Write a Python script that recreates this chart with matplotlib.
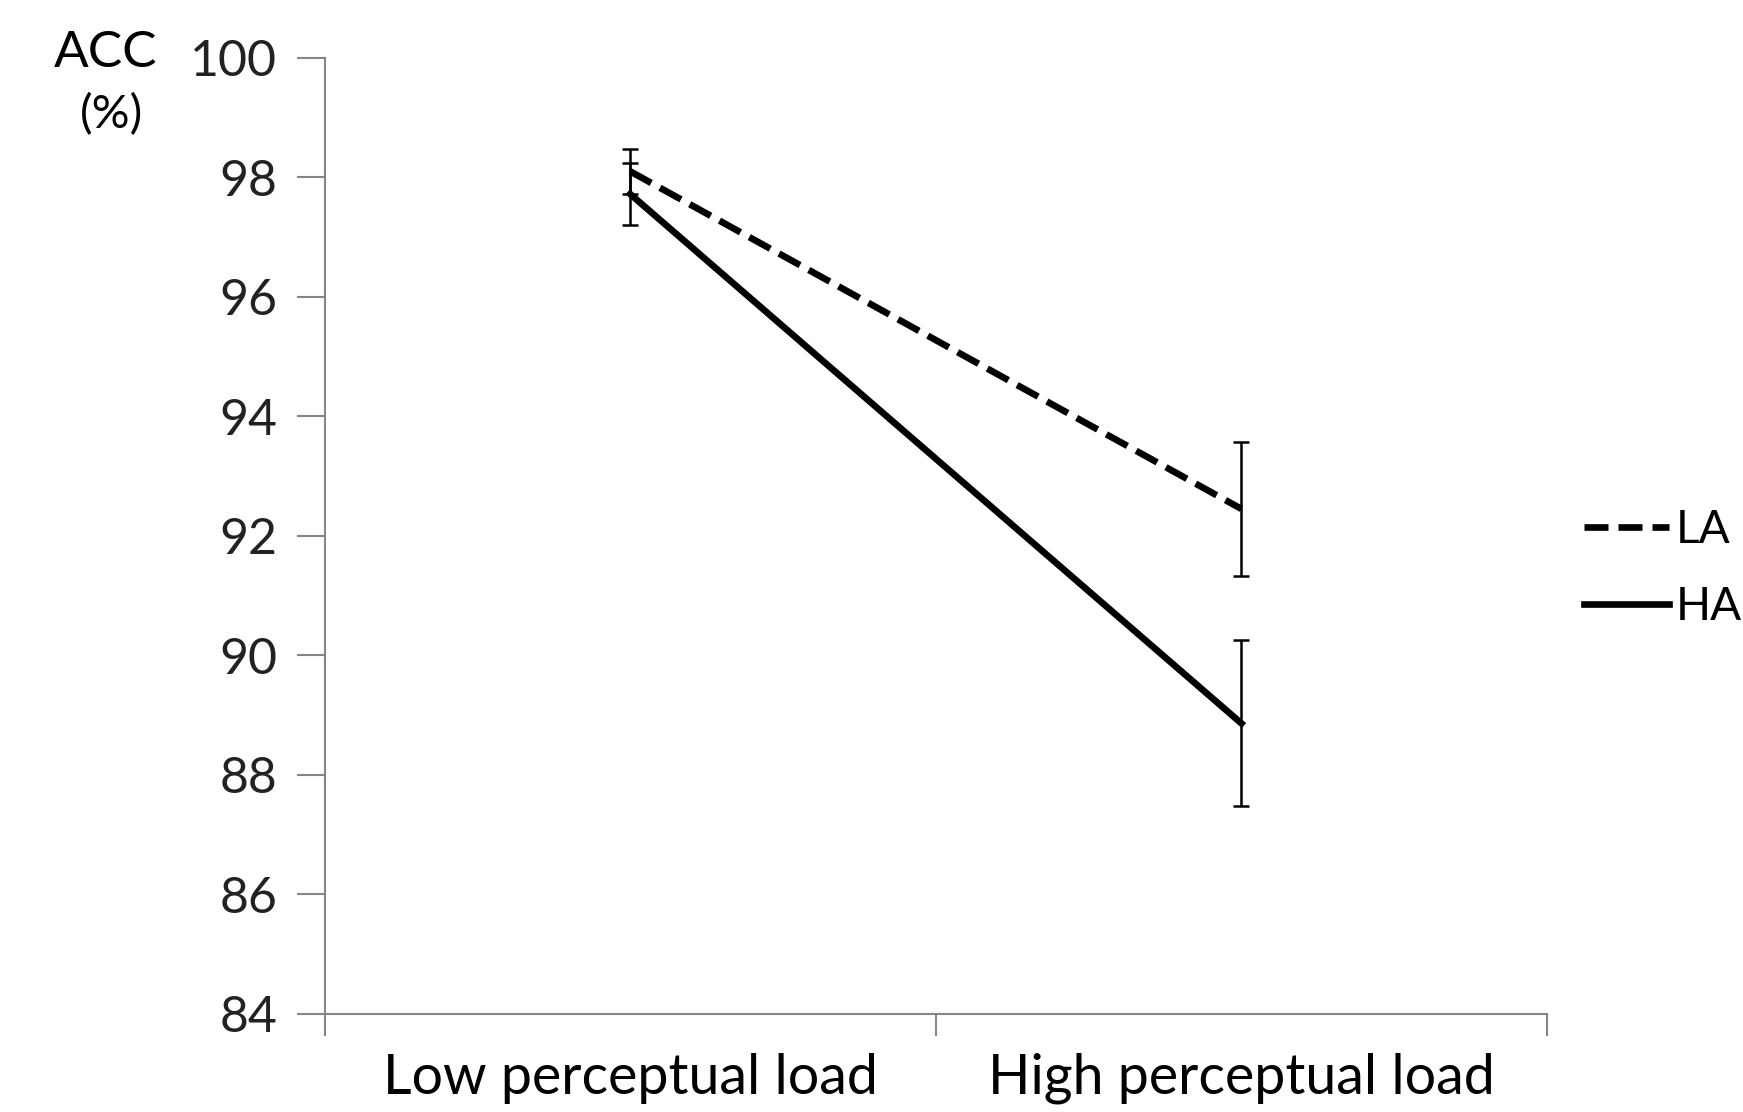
import matplotlib
matplotlib.use("Agg")
import matplotlib.pyplot as plt
from matplotlib.ticker import FixedLocator

plt.rcParams['font.family'] = ['Lato', 'DejaVu Sans']

# data
categories = ["Low perceptual load", "High perceptual load"]
la_mean = [98.1, 92.45]
la_err = [0.38, 1.12]
ha_mean = [97.72, 88.86]
ha_err = [0.52, 1.39]
y_ticks = [84, 86, 88, 90, 92, 94, 96, 98, 100]

fig = plt.figure(figsize=(17.43, 11.12), dpi=100)
ax = fig.add_axes([0.1862, 0.0883, 0.7014, 0.8597])

x = [0, 1]
ax.errorbar(x, la_mean, yerr=la_err, color="black", linewidth=4.8,
            linestyle=(0, (3.6, 1.5)), elinewidth=1.8, capsize=6, capthick=1.8,
            label="LA")
ax.errorbar(x, ha_mean, yerr=ha_err, color="black", linewidth=4.8,
            linestyle="-", elinewidth=1.8, capsize=6, capthick=1.8,
            label="HA")

ax.set_xlim(-0.5, 1.5)
ax.set_ylim(84, 100)
ax.set_yticks(y_ticks)
ax.set_yticklabels([str(v) for v in y_ticks], fontsize=36, color="#222222")

# category labels on minor ticks, boundary ticks on major
ax.xaxis.set_major_locator(FixedLocator([-0.5, 0.5, 1.5]))
ax.xaxis.set_ticklabels([])
ax.xaxis.set_minor_locator(FixedLocator(x))
ax.set_xticklabels(categories, minor=True, fontsize=40)
ax.tick_params(axis="x", which="minor", length=0, pad=28)
ax.tick_params(axis="x", which="major", length=16, width=1.5, color="#868686")
ax.tick_params(axis="y", length=20, width=1.5, color="#868686", pad=14)

for side in ["top", "right"]:
    ax.spines[side].set_visible(False)
for side in ["left", "bottom"]:
    ax.spines[side].set_color("#868686")
    ax.spines[side].set_linewidth(1.5)

fig.text(0.0606, 0.952, "ACC", fontsize=37, ha="center", va="center")
fig.text(0.0638, 0.897, "(%)", fontsize=34, ha="center", va="center")

handles, labels = ax.get_legend_handles_labels()
handles = [h[0] for h in handles]
fig.legend(handles, labels, loc="center left", bbox_to_anchor=(0.909, 0.4887),
           frameon=False, fontsize=33, handlelength=1.85, handletextpad=0.15,
           labelspacing=0.75, borderpad=0, borderaxespad=0)

fig.savefig("out.png", dpi=100)
